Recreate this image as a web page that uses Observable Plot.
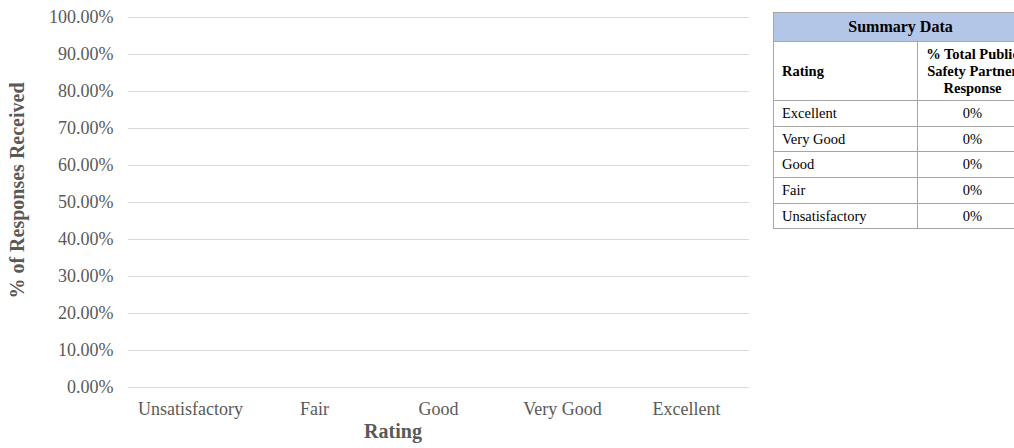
<!DOCTYPE html>
<html>
<head>
<meta charset="utf-8">
<script src="https://cdn.jsdelivr.net/npm/d3@7"></script>
<script src="https://cdn.jsdelivr.net/npm/@observablehq/plot@0.6"></script>
<style>
  html, body { margin: 0; padding: 0; background: #fff; overflow: hidden; width: 1014px; height: 448px; }
  #chart { position: absolute; left: 0; top: 0; }
  #tbl { position: absolute; left: 773px; top: 12px; width: 260px; }
  table { border-collapse: collapse; table-layout: fixed; width: 254px; font-family: "Liberation Serif", "Times New Roman", serif; color: #000; }
  td, th { border: 1px solid #a6a6a6; padding: 0 0 0 8px; font-size: 14.5px; white-space: nowrap; }
  th { font-weight: bold; }
  .hdr { background: #b4c6e7; font-size: 16px; text-align: center; height: 28px; padding: 0; }
  .sub td, .sub th { height: 58px; }
  .val { text-align: center; padding: 0; }
  .wrap { white-space: normal; }
  tbody td { height: 24.7px; }
</style>
</head>
<body>
<div id="chart"></div>
<div id="tbl"></div>
<script>
// Chart data (x order as shown on axis)
const categories = ["Unsatisfactory", "Fair", "Good", "Very Good", "Excellent"];
const values = [0, 0, 0, 0, 0];
const yTicks = [0, 0.1, 0.2, 0.3, 0.4, 0.5, 0.6, 0.7, 0.8, 0.9, 1.0];

// Summary table data
const tableTitle = "Summary Data";
const tableHeaders = ["Rating", "% Total Public Safety Partner Response"];
const tableRatings = ["Excellent", "Very Good", "Good", "Fair", "Unsatisfactory"];
const tableValues = ["0%", "0%", "0%", "0%", "0%"];

const data = categories.map((c, i) => ({rating: c, value: values[i]}));
const fontFamily = '"Liberation Serif", "Times New Roman", serif';

const chart = Plot.plot({
  width: 760,
  height: 448,
  marginLeft: 128,
  marginRight: 11,
  marginTop: 17,
  marginBottom: 61,
  style: {fontFamily, fontSize: "18px", color: "#595959", background: "transparent"},
  x: {domain: categories, label: null, paddingInner: 0.4, paddingOuter: 0.2},
  y: {domain: [0, 1], label: null},
  marks: [
    Plot.gridY(yTicks, {stroke: "#d9d9d9", strokeOpacity: 1, strokeWidth: 1}),
    Plot.axisY({ticks: yTicks, tickFormat: d3.format(".2%"), tickSize: 0, tickPadding: 15, label: null, fill: "#595959", fontSize: 18}),
    Plot.axisX({tickSize: 0, tickPadding: 15, label: null, fill: "#595959", fontSize: 18}),
    Plot.barY(data, {x: "rating", y: "value", fill: "#4472c4"}),
    Plot.text(["% of Responses Received"], {frameAnchor: "left", dx: -111, dy: -12, rotate: -90, fontSize: 20, fontWeight: "bold", fill: "#595959", textAnchor: "middle"}),
    Plot.text(["Rating"], {frameAnchor: "bottom", dx: -46, dy: 50, fontSize: 20, fontWeight: "bold", fill: "#595959", textAnchor: "middle"})
  ]
});
document.getElementById("chart").appendChild(chart);

// Build summary table
const table = d3.select("#tbl").append("table");
table.append("colgroup").selectAll("col").data([144, 110]).join("col").style("width", d => d + "px");
const thead = table.append("thead");
thead.append("tr").append("th").attr("colspan", 2).attr("class", "hdr").text(tableTitle);
const sub = thead.append("tr").attr("class", "sub");
sub.append("th").style("text-align", "left").text(tableHeaders[0]);
sub.append("th").attr("class", "val wrap").style("line-height", "17px").text(tableHeaders[1]);
const tbody = table.append("tbody");
tableRatings.forEach((r, i) => {
  const tr = tbody.append("tr");
  tr.append("td").text(r);
  tr.append("td").attr("class", "val").text(tableValues[i]);
});
</script>
</body>
</html>
